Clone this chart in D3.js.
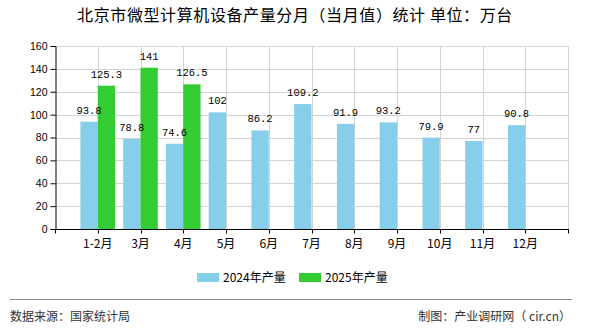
<!DOCTYPE html>
<html>
<head>
<meta charset="utf-8">
<script src="https://cdn.jsdelivr.net/npm/d3@7"></script>
<style>
  html, body { margin: 0; padding: 0; background: #fff; }
  svg { display: block; }
</style>
</head>
<body>
<script>
// Monthly output of microcomputers in Beijing (10k units)
const categories = ["1-2月", "3月", "4月", "5月", "6月", "7月", "8月", "9月", "10月", "11月", "12月"];
const values2024 = [93.8, 78.8, 74.6, 102, 86.2, 109.2, 91.9, 93.2, 79.9, 77, 90.8];
const values2025 = [125.3, 141, 126.5];
const seriesNames = ["2024年产量", "2025年产量"];
const yTicks = [0, 20, 40, 60, 80, 100, 120, 140, 160];

const W = 590, H = 330;
const plotL = 55, plotR = 568, plotT = 46, plotB = 229;
const colors = ["#87CEEB", "#33CC33"];
const cjk = "'Noto Sans CJK SC', 'Noto Sans', sans-serif";

const svg = d3.select("body").append("svg").attr("width", W).attr("height", H);

const x = d3.scalePoint().domain(categories).range([plotL, plotR]).padding(1);
const y = d3.scaleLinear().domain([0, 160]).range([plotB, plotT]);
const barW = x.step() * 0.405;

// Title
svg.append("text")
  .attr("x", 295).attr("y", 21)
  .attr("text-anchor", "middle")
  .style("font-family", cjk).style("font-size", "16px").style("letter-spacing", "0.6px").style("fill", "#000")
  .text("北京市微型计算机设备产量分月（当月值）统计 单位：万台");

// Grid
const grid = svg.append("g").attr("stroke", "#d3d3d3").attr("stroke-width", 1);
grid.selectAll("line.h").data(yTicks.filter(d => d > 0)).join("line")
  .attr("x1", plotL).attr("x2", plotR)
  .attr("y1", d => Math.round(y(d)) + 0.5).attr("y2", d => Math.round(y(d)) + 0.5);
grid.selectAll("line.v").data(categories).join("line")
  .attr("x1", d => Math.round(x(d)) + 0.5).attr("x2", d => Math.round(x(d)) + 0.5)
  .attr("y1", plotT).attr("y2", plotB);
grid.append("line")
  .attr("x1", plotR + 0.5).attr("x2", plotR + 0.5).attr("y1", plotT).attr("y2", plotB);

// Bars
const s1 = categories.map((c, i) => ({ c, v: values2024[i] }));
const s2 = values2025.map((v, i) => ({ c: categories[i], v }));

svg.append("g").selectAll("rect").data(s1).join("rect")
  .attr("x", d => x(d.c) - barW).attr("width", barW)
  .attr("y", d => y(d.v)).attr("height", d => y(0) - y(d.v))
  .attr("fill", colors[0]);
svg.append("g").selectAll("rect").data(s2).join("rect")
  .attr("x", d => x(d.c)).attr("width", barW)
  .attr("y", d => y(d.v)).attr("height", d => y(0) - y(d.v))
  .attr("fill", colors[1]);

// Value labels
const labelStyle = sel => sel
  .attr("text-anchor", "middle")
  .style("font-family", "'Liberation Mono', 'DejaVu Sans Mono', monospace")
  .style("font-size", "10.5px").style("fill", "#000");
svg.append("g").selectAll("text").data(s1).join("text")
  .attr("x", d => x(d.c) - barW / 2).attr("y", d => y(d.v) - 8)
  .text(d => d.v).call(labelStyle);
svg.append("g").selectAll("text").data(s2).join("text")
  .attr("x", d => x(d.c) + barW / 2).attr("y", d => y(d.v) - 8)
  .text(d => d.v).call(labelStyle);

// Axes
const yAxis = svg.append("g").attr("transform", `translate(${plotL + 0.5},0)`)
  .call(d3.axisLeft(y).tickValues(yTicks).tickSize(5).tickPadding(3).tickFormat(d3.format("d")));
yAxis.select(".domain").attr("stroke", "#000");
yAxis.selectAll(".tick line").attr("stroke", "#000");
yAxis.selectAll("text").style("font-family", "'Liberation Sans', Arial, sans-serif").style("font-size", "10.5px").attr("fill", "#000");

const xAxisScale = d3.scaleLinear().domain([0, categories.length + 1]).range([plotL, plotR]);
const xAxis = svg.append("g").attr("transform", `translate(0,${plotB + 0.5})`);
xAxis.append("line").attr("x1", plotL).attr("x2", plotR + 1).attr("stroke", "#000");
xAxis.selectAll("line.t").data(d3.range(0, categories.length + 2)).join("line")
  .attr("x1", d => Math.round(xAxisScale(d)) + 0.5).attr("x2", d => Math.round(xAxisScale(d)) + 0.5)
  .attr("y1", 0).attr("y2", 4).attr("stroke", "#000");
xAxis.selectAll("text").data(categories).join("text")
  .attr("x", d => x(d)).attr("y", 18)
  .attr("text-anchor", "middle")
  .style("font-family", cjk).style("font-size", "12px").style("fill", "#000")
  .text(d => d);

// Legend
const legend = svg.append("g");
const legendX = [197, 299];
seriesNames.forEach((name, i) => {
  legend.append("rect").attr("x", legendX[i]).attr("y", 273).attr("width", 22).attr("height", 9).attr("fill", colors[i]);
  legend.append("text").attr("x", legendX[i] + 26).attr("y", 282)
    .style("font-family", cjk).style("font-size", "12px").style("fill", "#000")
    .text(name);
});

// Footer
svg.append("line").attr("x1", 10).attr("x2", 572).attr("y1", 299.5).attr("y2", 299.5)
  .attr("stroke", "#888").attr("stroke-width", 1);
svg.append("text").attr("x", 10).attr("y", 321)
  .style("font-family", cjk).style("font-size", "12px").style("fill", "#333")
  .text("数据来源：国家统计局");
svg.append("text").attr("x", 571).attr("y", 321).attr("text-anchor", "end")
  .style("font-family", cjk).style("font-size", "12px").style("fill", "#333")
  .text("制图：产业调研网（ cir.cn）");
</script>
</body>
</html>
